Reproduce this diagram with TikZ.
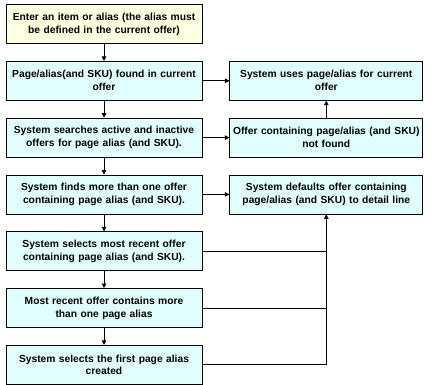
\documentclass[tikz,border=0pt]{standalone}
\usepackage{fontspec}
\setmainfont{Liberation Sans}
\usetikzlibrary{arrows.meta, positioning, calc}
\definecolor{ofyellow}{HTML}{FFFFE1}
\definecolor{ofcyan}{HTML}{E1FFFF}

\begin{document}
\begin{tikzpicture}[x=1bp, y=-1bp, line join=miter,
                    font=\fontsize{10.3}{13}\selectfont\bfseries,
                    >={Triangle[length=4.5bp, width=4.5bp]},
                    stepbox/.style={draw=black, fill=ofcyan, line width=0.8bp,
                                    align=center, text width=193bp, inner xsep=1bp,
                                    minimum width=196bp, minimum height=39bp},
                    sidebox/.style={stepbox, text width=191bp, inner xsep=0.5bp,
                                    minimum width=193bp},
                    flow/.style={draw=black, line width=0.8bp}]
  \useasboundingbox (0,0) rectangle (432,385);
  % main column
  \node[stepbox, fill=ofyellow] (enter) at (104,24)
    {Enter an item or alias (the alias must\\be defined in the current offer)};
  \node[stepbox, below=17bp of enter] (found)
    {Page/alias(and SKU) found in current\\offer};
  \node[stepbox, below=17bp of found] (search)
    {System searches active and inactive\\offers for page alias (and SKU).};
  \node[stepbox, below=17bp of search] (many)
    {System finds more than one offer\\containing page alias (and SKU).};
  \node[stepbox, below=17bp of many] (recent)
    {System selects most recent offer\\containing page alias (and SKU).};
  \node[stepbox, below=17bp of recent] (multi)
    {Most recent offer contains more\\than one page alias};
  \node[stepbox, below=17bp of multi] (first)
    {System selects the first page alias\\created};
  % outcomes on the right
  \node[sidebox, right=27bp of found] (uses)
    {System uses page/alias for current\\offer};
  \node[sidebox, right=27bp of search] (notfound)
    {Offer containing page/alias (and SKU)\\not found};
  \node[sidebox, right=27bp of many] (default)
    {System defaults offer containing\\page/alias (and SKU) to detail line};
  % connectors
  \foreach \a/\b in {enter/found, found/search, search/many, many/recent,
                     recent/multi, multi/first}
    \draw[flow, ->] (\a) -- (\b);
  \draw[flow, ->] (found) -- (uses);
  \draw[flow, ->] (search) -- (notfound);
  \draw[flow, ->] (notfound) -- (uses);
  \draw[flow, ->] (many) -- (default);
  \draw[flow, ->] (first.east) -| (default.south);
  \draw[flow] (recent.east) -- (recent.east -| default.south);
  \draw[flow] (multi.east) -- (multi.east -| default.south);
\end{tikzpicture}
\end{document}
